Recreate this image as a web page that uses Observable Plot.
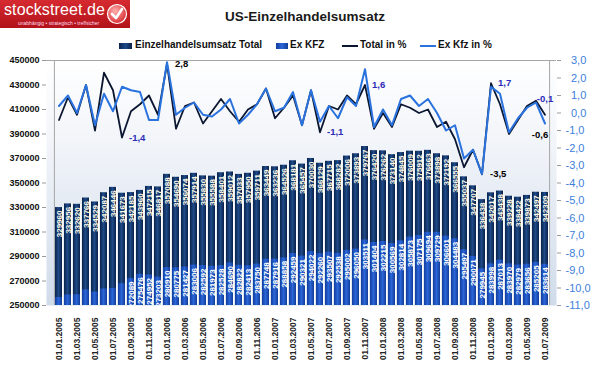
<!DOCTYPE html>
<html><head><meta charset="utf-8">
<script src="https://cdn.jsdelivr.net/npm/d3@7"></script>
<script src="https://cdn.jsdelivr.net/npm/@observablehq/plot@0.6"></script>
<style>
body{margin:0;background:#fff;font-family:"Liberation Sans",Arial,sans-serif;}
#wrap{position:relative;width:595px;height:367px;overflow:hidden;}
#head{position:relative;height:48px;}
.logo{position:absolute;left:0;top:0;width:130px;height:28px;background:linear-gradient(#d52a30,#b3121a);}
.logo .name{position:absolute;left:4px;top:1px;color:#fff;font-size:16px;letter-spacing:0.1px;}
.logo .sub{position:absolute;left:18px;top:20px;color:#fde;font-size:5px;white-space:nowrap;}
.logo svg{position:absolute;left:106px;top:3px;}
.title{position:absolute;left:205px;width:200px;top:9px;text-align:center;font-weight:bold;font-size:13.5px;color:#1a1a1a;}
.leg{position:absolute;top:39px;font-size:10px;font-weight:bold;color:#111;white-space:nowrap;line-height:12px;}
.sw{position:absolute;top:43px;height:6px;}
.ln{position:absolute;top:45px;height:2px;}
</style></head>
<body><div id="wrap">
<div id="head">
  <div class="logo"><span class="name">stockstreet.de</span><span class="sub">unabhängig • strategisch • treffsicher</span>
    <svg width="22" height="22" viewBox="0 0 22 22"><defs><radialGradient id="lg" cx="0.4" cy="0.35" r="0.7"><stop offset="0" stop-color="#ffb0b0"/><stop offset="1" stop-color="#d8262c"/></radialGradient></defs><circle cx="11" cy="11" r="9.5" fill="url(#lg)" stroke="#fff" stroke-width="1.2"/><path d="M6 11 L10 15 L16 6" fill="none" stroke="#fff" stroke-width="2.6" stroke-linecap="round" stroke-linejoin="round"/></svg>
  </div>
  <div class="title">US-Einzelhandelsumsatz</div>
  <div class="sw" style="left:119px;width:13px;background:linear-gradient(90deg,#0b2450,#1e4a88,#0a2048);"></div>
  <div class="leg" style="left:135px;">Einzelhandelsumsatz Total</div>
  <div class="sw" style="left:276px;width:12px;background:linear-gradient(90deg,#123d9c,#2a66d8,#123c98);"></div>
  <div class="leg" style="left:290px;">Ex KFZ</div>
  <div class="ln" style="left:342px;width:16px;background:#0b1630;"></div>
  <div class="leg" style="left:360px;">Total in %</div>
  <div class="ln" style="left:420px;width:16px;background:#2a72de;"></div>
  <div class="leg" style="left:438px;">Ex Kfz in %</div>
</div>
<div id="chart"></div>
</div>
<script>
const months = ["01.01.2005","01.02.2005","01.03.2005","01.04.2005","01.05.2005","01.06.2005","01.07.2005","01.08.2005","01.09.2005","01.10.2005","01.11.2005","01.12.2005",
"01.01.2006","01.02.2006","01.03.2006","01.04.2006","01.05.2006","01.06.2006","01.07.2006","01.08.2006","01.09.2006","01.10.2006","01.11.2006","01.12.2006",
"01.01.2007","01.02.2007","01.03.2007","01.04.2007","01.05.2007","01.06.2007","01.07.2007","01.08.2007","01.09.2007","01.10.2007","01.11.2007","01.12.2007",
"01.01.2008","01.02.2008","01.03.2008","01.04.2008","01.05.2008","01.06.2008","01.07.2008","01.08.2008","01.09.2008","01.10.2008","01.11.2008","01.12.2008",
"01.01.2009","01.02.2009","01.03.2009","01.04.2009","01.05.2009","01.06.2009","01.07.2009"];

const total = [329960,332956,332620,337766,334529,342087,346446,341673,342185,343960,347215,346817,
357088,354690,356074,357914,355830,355588,358401,359012,357033,357950,359711,363449,
363236,364526,368181,365457,370030,366129,367715,368282,372006,373893,379767,376420,
376262,373140,374845,376009,375912,376663,373898,372192,366555,355037,347707,336438,
342017,343438,339228,338422,339873,342497,342309];

const exKfz = [256500,258600,258800,262800,261000,263500,264000,267800,272089,275476,274952,273203,
280910,280775,281427,283006,282592,281973,282528,284690,282822,282413,283750,287748,
287916,288858,292459,290321,294022,292260,293507,292538,295002,296050,303511,301404,
302215,300569,302814,305873,307175,309694,309729,306601,304483,295497,290071,279945,
283998,287013,283970,282979,283656,285205,283614];

const totalPct = [-0.4,0.9,-0.1,1.6,-1.0,2.3,1.3,-1.4,0.1,0.5,1.0,-0.1,
2.8,-0.9,0.4,0.6,-0.6,0.1,0.8,0.1,-0.5,0.2,0.5,1.4,
-0.3,0.3,1.0,-0.7,1.3,-1.1,0.4,0.2,1.0,0.5,1.6,-0.9,
0.0,-0.8,0.5,0.3,0.0,0.2,-0.8,-0.5,-1.5,-3.1,-2.1,-3.5,
1.7,0.5,-1.2,-0.4,0.4,0.7,-0.1];

const exPct = [0.4,1.0,0.0,1.6,-0.7,1.1,0.1,1.5,1.3,1.2,-0.4,-0.4,
2.9,-0.1,0.3,0.6,-0.1,-0.2,0.2,0.8,-0.6,-0.1,0.5,1.4,
0.1,0.3,1.2,-0.7,1.3,-0.5,0.4,-0.3,0.9,0.4,2.5,-0.8,
0.2,-0.7,0.8,1.0,0.4,0.8,0.0,-1.0,-0.7,-2.6,-2.1,-3.5,
1.5,1.1,-1.1,-0.3,0.3,0.6,-0.6];

// labelled points (month index) of the "Total in %" series
const labelsDark = [12, 47];
const labelsBlue = [7, 29, 34, 48];
const labelEndTotal = [54];
const labelEndEx = [54];

const yMin = 250000, yMax = 450000, yStep = 20000;
const pMin = -11, pMax = 3;
const p2y = p => yMin + (p - pMin) * (yMax - yMin) / (pMax - pMin);
const y2p = y => pMin + (y - yMin) * (pMax - pMin) / (yMax - yMin);
const fmt = v => d3.format(".1f")(Math.abs(v) < 1e-9 ? 0 : v).replace(".", ",").replace("\u2212", "-");

const rows = months.map((m, i) => ({m, i, total: total[i], ex: exKfz[i], tp: totalPct[i], ep: exPct[i]}));
const pick = idx => idx.map(i => rows[i]);

const font = "Liberation Sans, Arial, sans-serif";
const chart = Plot.plot({
  width: 595, height: 319,
  marginTop: 12, marginBottom: 62, marginLeft: 46, marginRight: 39,
  style: {fontFamily: font, background: "transparent", overflow: "visible"},
  x: {type: "band", domain: months, paddingInner: 0.25, paddingOuter: 0, axis: null},
  y: {domain: [yMin, yMax], axis: null},
  marks: [
    Plot.frame({fill: "url(#bgGrad)", stroke: "none"}),
    Plot.barY(rows, {x: "m", y1: yMin, y2: "total", fill: "#ffffff", dx: 1.3, fillOpacity: 0.9}),
    Plot.barY(rows, {x: "m", y1: yMin, y2: "total", fill: "url(#gTotal)"}),
    Plot.barY(rows, {x: "m", y1: yMin, y2: "ex", fill: "url(#gEx)"}),
    Plot.text(rows, {x: "m", y: "total", text: d => String(d.total), rotate: -90, textAnchor: "end", lineAnchor: "middle", dy: 3, fill: "#fffbe8", fontSize: 8, fontWeight: "bold"}),
    Plot.text(rows.filter(d => d.ex > 270000), {x: "m", y: "ex", text: d => String(d.ex), rotate: -90, textAnchor: "end", lineAnchor: "middle", dy: 3, fill: "#ffffff", fontSize: 8, fontWeight: "bold"}),
    Plot.ruleY([yMax], {stroke: "#a6a6a6"}),
    Plot.axisY({anchor: "left", ticks: d3.range(yMin, yMax + 1, yStep), tickFormat: d3.format("d"), tickSize: 4, tickPadding: 3, fontSize: 9, fontWeight: "bold", label: null, stroke: "#9a9a9a", color: "#111"}),
    Plot.axisY({anchor: "right", ticks: d3.range(pMin, pMax + 1).map(p2y), tickFormat: v => { const p = y2p(v); return (p >= 0 ? "\u2002" : "") + fmt(p); }, tickSize: 4, tickPadding: 5, fontSize: 11, label: null, stroke: "#9a9a9a", color: "#3d80da"}),
    Plot.ruleX([months[0]], {stroke: "#a6a6a6", dx: -4.6}),
    Plot.ruleX([months[months.length - 1]], {stroke: "#a6a6a6", dx: 4.6}),
    Plot.axisX({ticks: months.filter((d, i) => i % 2 === 0), tickRotate: -90, tickSize: 0, tickPadding: 12, fontSize: 8.5, fontWeight: "bold", label: null, color: "#222"}),
    Plot.line(rows, {x: "m", y: d => p2y(d.tp), stroke: "#0b1630", strokeWidth: 1.8}),
    Plot.line(rows, {x: "m", y: d => p2y(d.ep), stroke: "#2a72de", strokeWidth: 2}),
    Plot.text(pick(labelsDark), {x: "m", y: d => p2y(d.tp), text: d => fmt(d.tp), textAnchor: "start", dx: 8, fill: "#000", fontSize: 9.5, fontWeight: "bold"}),
    Plot.text(pick(labelsBlue), {x: "m", y: d => p2y(d.tp), text: d => fmt(d.tp), textAnchor: "start", dx: 7, fill: "#2b2bb8", fontSize: 9.5, fontWeight: "bold"}),
    Plot.text(pick(labelEndTotal), {x: "m", y: d => p2y(d.tp), text: d => fmt(d.tp), textAnchor: "middle", dy: -16, fill: "#2b2bb8", fontSize: 9.5, fontWeight: "bold"}),
    Plot.text(pick(labelEndEx), {x: "m", y: d => p2y(d.ep), text: d => fmt(d.ep), textAnchor: "middle", dx: -5, dy: 11, fill: "#000", fontSize: 9.5, fontWeight: "bold"})
  ]
});

d3.select(chart).insert("defs", ":first-child").html(`
  <linearGradient id="bgGrad" x1="0" y1="0" x2="0" y2="1">
    <stop offset="0" stop-color="#ffffff"/><stop offset="0.35" stop-color="#f1f4f9"/><stop offset="1" stop-color="#d0dbea"/>
  </linearGradient>
  <linearGradient id="gTotal" x1="0" y1="0" x2="1" y2="0">
    <stop offset="0" stop-color="#0a2249"/><stop offset="0.5" stop-color="#1e4a88"/><stop offset="1" stop-color="#0a2048"/>
  </linearGradient>
  <linearGradient id="gEx" x1="0" y1="0" x2="1" y2="0">
    <stop offset="0" stop-color="#123d9c"/><stop offset="0.5" stop-color="#2a66d8"/><stop offset="1" stop-color="#123c98"/>
  </linearGradient>`);
document.getElementById("chart").append(chart);
</script>
</body></html>
